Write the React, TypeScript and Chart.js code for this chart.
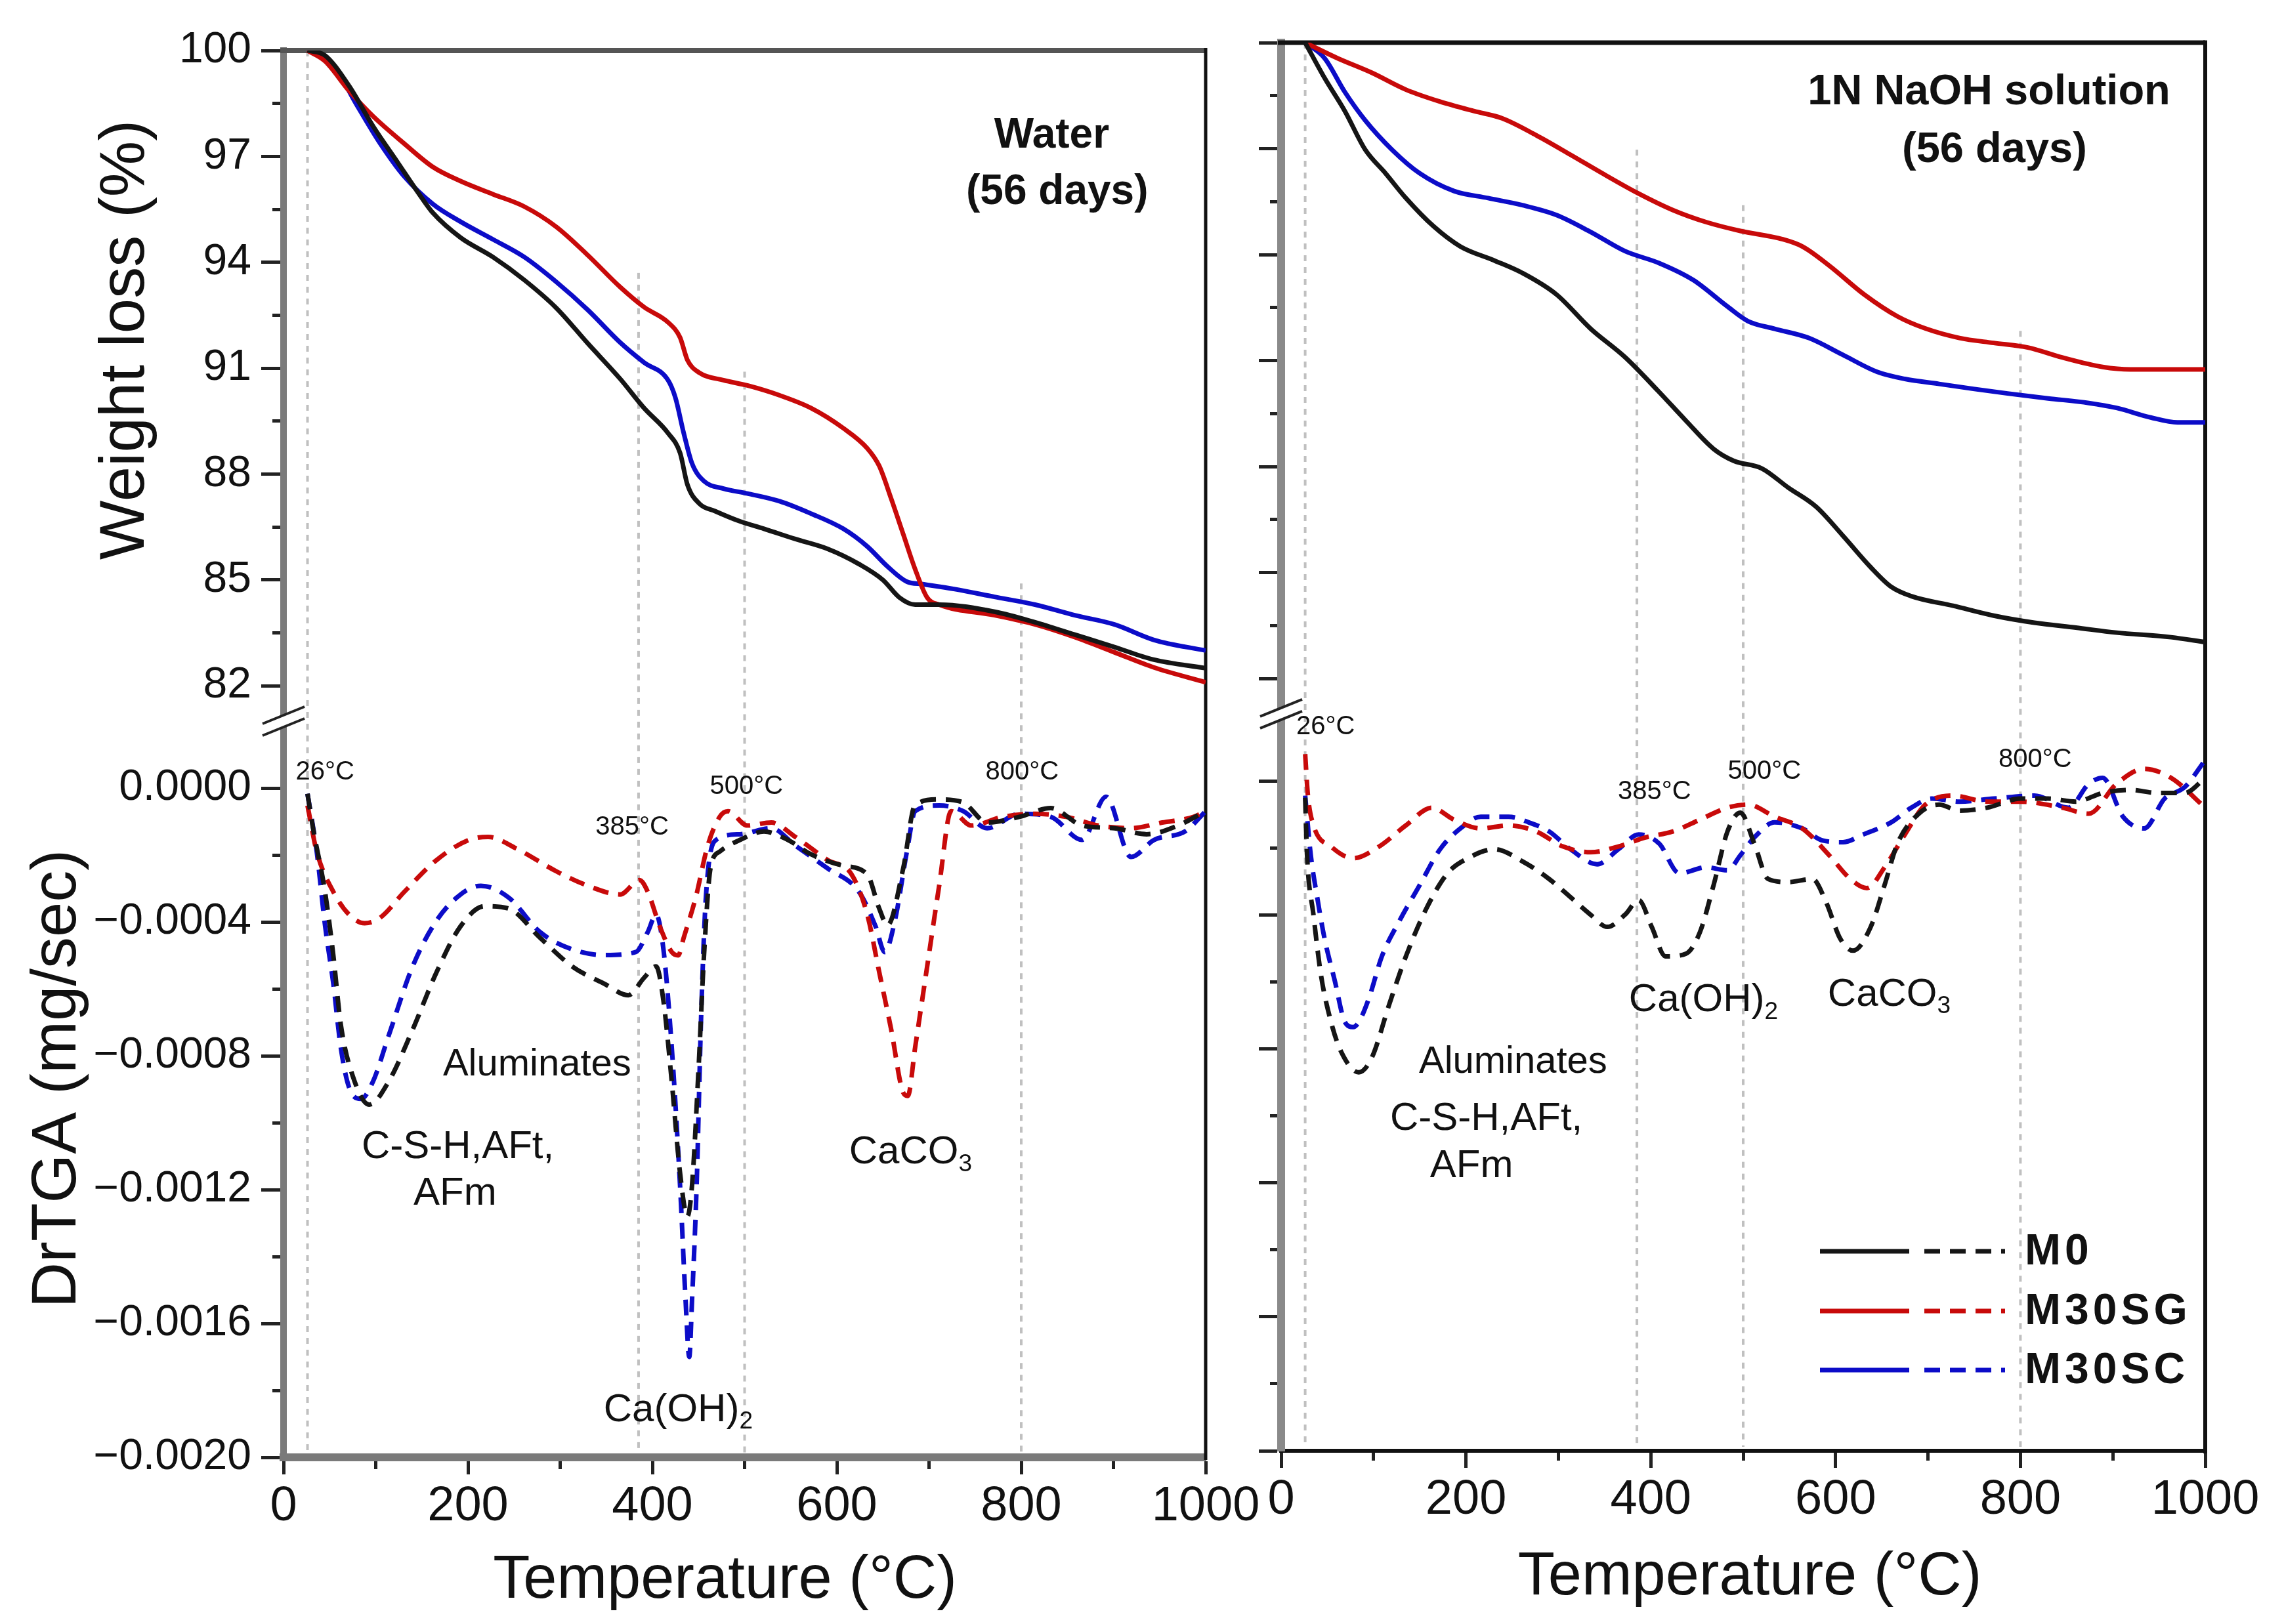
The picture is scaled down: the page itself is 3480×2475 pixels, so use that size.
import React, { useEffect, useRef } from 'react';
import { Chart, registerables } from 'chart.js';

Chart.register(...registerables);

// ---------------- data ----------------
const seriesNames = ['M0', 'M30SG', 'M30SC'];

// Water (56 days) – TGA, weight loss (%)
const waterTgaM0Temp = [26, 45, 71, 97, 123, 149, 162, 192, 227, 261, 296, 330, 365, 391, 417, 430, 438, 451, 468, 495, 521, 555, 590, 624, 650, 668, 685, 711, 771, 815, 858, 901, 944, 1000];
const waterTgaM0 = [100, 99.86, 99.0, 97.86, 96.86, 95.86, 95.4, 94.7, 94.15, 93.5, 92.7, 91.7, 90.7, 89.87, 89.16, 88.6, 87.7, 87.16, 86.95, 86.66, 86.45, 86.16, 85.88, 85.45, 85.0, 84.5, 84.3, 84.3, 84.1, 83.8, 83.45, 83.1, 82.74, 82.5];
const waterTgaSGTemp = [26, 45, 71, 97, 131, 162, 192, 227, 261, 296, 330, 365, 391, 417, 430, 438, 451, 477, 503, 538, 572, 607, 633, 646, 659, 672, 685, 698, 711, 771, 815, 858, 901, 944, 1000];
const waterTgaSG = [100, 99.7, 98.86, 98.14, 97.36, 96.7, 96.3, 95.93, 95.58, 95.0, 94.2, 93.3, 92.73, 92.3, 91.87, 91.23, 90.87, 90.66, 90.51, 90.23, 89.87, 89.3, 88.73, 88.23, 87.3, 86.3, 85.3, 84.5, 84.3, 84.0, 83.74, 83.38, 82.95, 82.52, 82.1];
const waterTgaSCTemp = [28, 54, 80, 105, 131, 162, 192, 227, 261, 296, 330, 365, 391, 417, 425, 434, 443, 456, 477, 503, 538, 572, 607, 633, 655, 676, 693, 728, 771, 815, 858, 901, 944, 1000];
const waterTgaSC = [100, 99.57, 98.43, 97.36, 96.43, 95.65, 95.15, 94.65, 94.15, 93.44, 92.65, 91.73, 91.16, 90.66, 90.16, 89.16, 88.3, 87.8, 87.59, 87.45, 87.23, 86.88, 86.45, 85.95, 85.38, 84.95, 84.88, 84.74, 84.52, 84.3, 84.0, 83.74, 83.3, 83.0];

// Water (56 days) – DrTGA (mg/sec)
const waterDtgM0Temp = [26, 32, 45, 54, 62, 75, 93, 114, 140, 166, 192, 218, 244, 278, 313, 348, 374, 391, 404, 412, 421, 430, 438, 443, 450, 456, 463, 473, 495, 521, 547, 572, 607, 633, 646, 655, 672, 685, 711, 737, 763, 798, 832, 866, 901, 936, 970, 1000];
const waterDtgM0 = [-0.17e-4, -1.2e-4, -3.1e-4, -5.0e-4, -7.05e-4, -8.6e-4, -9.46e-4, -8.77e-4, -7.22e-4, -5.5e-4, -4.13e-4, -3.53e-4, -3.6e-4, -4.47e-4, -5.33e-4, -5.85e-4, -6.19e-4, -5.67e-4, -5.33e-4, -6.36e-4, -8.77e-4, -11.5e-4, -12.8e-4, -11.87e-4, -8.43e-4, -4.99e-4, -2.4e-4, -1.9e-4, -1.55e-4, -1.3e-4, -1.55e-4, -1.98e-4, -2.32e-4, -2.58e-4, -3.6e-4, -4.1e-4, -2.4e-4, -0.5e-4, -0.34e-4, -0.43e-4, -1.03e-4, -0.86e-4, -0.6e-4, -1.12e-4, -1.2e-4, -1.38e-4, -1.12e-4, -0.69e-4];
const waterDtgSGTemp = [26, 36, 54, 71, 88, 105, 131, 166, 201, 222, 252, 296, 330, 365, 386, 395, 408, 421, 428, 434, 447, 460, 473, 482, 503, 529, 555, 590, 616, 633, 646, 659, 672, 677, 685, 698, 711, 724, 746, 780, 815, 849, 884, 919, 953, 987, 1000];
const waterDtgSG = [-0.52e-4, -1.9e-4, -3.1e-4, -3.78e-4, -4.04e-4, -3.87e-4, -3.1e-4, -2.15e-4, -1.55e-4, -1.46e-4, -1.8e-4, -2.49e-4, -2.92e-4, -3.18e-4, -2.75e-4, -3.1e-4, -4.13e-4, -4.9e-4, -5.0e-4, -4.47e-4, -3.27e-4, -1.72e-4, -0.86e-4, -0.69e-4, -1.12e-4, -1.03e-4, -1.46e-4, -2.15e-4, -2.58e-4, -3.78e-4, -5.5e-4, -7.22e-4, -9.1e-4, -9.2e-4, -7.74e-4, -5.33e-4, -2.92e-4, -0.69e-4, -1.12e-4, -0.86e-4, -0.77e-4, -0.86e-4, -1.12e-4, -1.2e-4, -1.03e-4, -0.86e-4, -0.69e-4];
const waterDtgSCTemp = [26, 36, 45, 54, 62, 71, 84, 97, 114, 140, 166, 192, 214, 244, 278, 313, 348, 382, 395, 404, 412, 421, 430, 436, 440, 443, 448, 453, 458, 469, 495, 529, 555, 590, 624, 642, 652, 663, 676, 685, 711, 737, 763, 798, 832, 866, 892, 919, 944, 978, 1000];
const waterDtgSC = [-0.17e-4, -1.9e-4, -4.1e-4, -5.85e-4, -7.74e-4, -8.94e-4, -9.29e-4, -8.77e-4, -7.4e-4, -5.33e-4, -3.96e-4, -3.18e-4, -2.92e-4, -3.27e-4, -4.3e-4, -4.82e-4, -4.99e-4, -4.9e-4, -4.3e-4, -3.78e-4, -4.82e-4, -7.74e-4, -11.87e-4, -15.3e-4, -17.0e-4, -15.3e-4, -11.87e-4, -6.7e-4, -3.27e-4, -1.55e-4, -1.38e-4, -1.2e-4, -1.72e-4, -2.4e-4, -3.1e-4, -4.13e-4, -4.9e-4, -3.96e-4, -1.9e-4, -0.69e-4, -0.52e-4, -0.69e-4, -1.2e-4, -0.77e-4, -0.86e-4, -1.55e-4, -0.26e-4, -2.06e-4, -1.55e-4, -1.29e-4, -0.69e-4];

// 1N NaOH solution (56 days) – TGA
const naohTgaM0Temp = [26, 47, 69, 91, 113, 135, 165, 194, 231, 261, 298, 335, 372, 408, 438, 468, 490, 520, 549, 579, 608, 638, 660, 682, 727, 771, 815, 860, 904, 963, 1000];
const naohTgaM0 = [100, 99.0, 98.06, 96.97, 96.3, 95.6, 94.8, 94.23, 93.83, 93.48, 92.87, 91.9, 91.1, 90.14, 89.3, 88.5, 88.16, 87.95, 87.4, 86.86, 86.04, 85.15, 84.6, 84.33, 84.06, 83.78, 83.58, 83.44, 83.3, 83.17, 83.03];
const naohTgaSGTemp = [26, 61, 98, 135, 172, 209, 239, 276, 313, 349, 386, 424, 460, 497, 542, 564, 593, 631, 667, 697, 734, 771, 808, 845, 889, 919, 963, 1000];
const naohTgaSG = [100, 99.56, 99.15, 98.67, 98.33, 98.06, 97.86, 97.38, 96.83, 96.28, 95.74, 95.26, 94.92, 94.67, 94.44, 94.23, 93.69, 92.87, 92.25, 91.91, 91.64, 91.5, 91.37, 91.09, 90.82, 90.75, 90.75, 90.75];
const naohTgaSCTemp = [26, 47, 69, 91, 120, 150, 187, 224, 261, 298, 335, 372, 409, 446, 483, 505, 534, 571, 608, 645, 675, 712, 749, 786, 830, 874, 904, 941, 970, 1000];
const naohTgaSC = [100, 99.56, 98.6, 97.8, 96.97, 96.3, 95.8, 95.6, 95.4, 95.12, 94.64, 94.1, 93.76, 93.28, 92.53, 92.12, 91.9, 91.64, 91.16, 90.68, 90.48, 90.34, 90.2, 90.07, 89.93, 89.8, 89.66, 89.39, 89.25, 89.25];

// 1N NaOH solution (56 days) – DrTGA
const naohDtgM0Temp = [26, 28, 35, 43, 54, 65, 84, 98, 117, 135, 157, 180, 202, 231, 261, 290, 313, 335, 353, 372, 387, 401, 416, 438, 453, 468, 483, 497, 512, 527, 549, 575, 590, 605, 619, 638, 653, 667, 690, 712, 734, 764, 800, 830, 860, 889, 919, 948, 978, 1000];
const naohDtgM0 = [-0.5e-4, -2.2e-4, -4.0e-4, -5.78e-4, -7.2e-4, -8.09e-4, -8.7e-4, -8.27e-4, -6.67e-4, -5.24e-4, -3.82e-4, -2.76e-4, -2.31e-4, -2.04e-4, -2.4e-4, -2.93e-4, -3.47e-4, -4.0e-4, -4.36e-4, -4.0e-4, -3.56e-4, -4.36e-4, -5.24e-4, -5.16e-4, -4.53e-4, -3.11e-4, -1.51e-4, -0.95e-4, -1.87e-4, -2.93e-4, -3.02e-4, -2.93e-4, -3.64e-4, -4.71e-4, -5.07e-4, -4.36e-4, -3.11e-4, -1.87e-4, -0.98e-4, -0.71e-4, -0.89e-4, -0.8e-4, -0.53e-4, -0.53e-4, -0.62e-4, -0.36e-4, -0.27e-4, -0.36e-4, -0.36e-4, 0.09e-4];
const naohDtgSGTemp = [26, 29, 35, 54, 78, 106, 135, 163, 187, 216, 246, 276, 305, 335, 365, 394, 424, 453, 483, 505, 534, 564, 593, 616, 634, 653, 675, 697, 727, 764, 800, 845, 874, 904, 934, 963, 1000];
const naohDtgSG = [0.8e-4, -0.44e-4, -1.33e-4, -1.96e-4, -2.31e-4, -1.96e-4, -1.33e-4, -0.8e-4, -1.16e-4, -1.42e-4, -1.33e-4, -1.51e-4, -1.96e-4, -2.13e-4, -1.96e-4, -1.69e-4, -1.51e-4, -1.16e-4, -0.8e-4, -0.71e-4, -1.07e-4, -1.42e-4, -2.22e-4, -2.93e-4, -3.2e-4, -2.58e-4, -1.6e-4, -0.71e-4, -0.44e-4, -0.62e-4, -0.62e-4, -0.8e-4, -0.98e-4, -0.09e-4, 0.36e-4, 0.09e-4, -0.8e-4];
const naohDtgSCTemp = [26, 32, 39, 47, 58, 69, 78, 84, 95, 109, 128, 150, 172, 194, 216, 246, 268, 290, 313, 342, 365, 387, 409, 431, 460, 483, 497, 512, 534, 564, 586, 608, 630, 660, 682, 704, 734, 771, 815, 852, 874, 889, 911, 934, 956, 978, 1000];
const naohDtgSC = [-0.44e-4, -2.2e-4, -3.47e-4, -4.71e-4, -5.96e-4, -7.2e-4, -7.35e-4, -7.2e-4, -6.49e-4, -5.24e-4, -4.18e-4, -3.11e-4, -2.04e-4, -1.42e-4, -1.07e-4, -1.07e-4, -1.24e-4, -1.51e-4, -2.04e-4, -2.49e-4, -2.04e-4, -1.6e-4, -1.87e-4, -2.76e-4, -2.58e-4, -2.67e-4, -2.22e-4, -1.69e-4, -1.24e-4, -1.42e-4, -1.78e-4, -1.83e-4, -1.6e-4, -1.24e-4, -0.8e-4, -0.53e-4, -0.62e-4, -0.53e-4, -0.44e-4, -0.8e-4, -0.09e-4, 0.09e-4, -1.07e-4, -1.42e-4, -0.53e-4, -0.18e-4, 0.62e-4];

// ticks
const weightMajorTicks = [82, 85, 88, 91, 94, 97, 100];
const weightMinorTicks = [83.5, 86.5, 89.5, 92.5, 95.5, 98.5];
const weightTickLabels = ['82', '85', '88', '91', '94', '97', '100'];
const dtgMajorTicks = [0, -0.0004, -0.0008, -0.0012, -0.0016, -0.002];
const dtgMinorTicks = [-0.0002, -0.0006, -0.001, -0.0014, -0.0018];
const dtgTickLabels = ['0.0000', '\u22120.0004', '\u22120.0008', '\u22120.0012', '\u22120.0016', '\u22120.0020'];
const tempMajorTicks = [0, 200, 400, 600, 800, 1000];
const tempMinorTicks = [100, 300, 500, 700, 900];
const tempTickLabels = ['0', '200', '400', '600', '800', '1000'];

// reference temperatures (dotted verticals) and the weight level where each starts
const refTemps = [26, 385, 500, 800];
const waterRefStart = [100, 93.7, 90.9, 84.9];
const naohRefStart = [100, 96.97, 95.4, 91.84];

// ---------------- styling ----------------
const W = 3480;
const H = 2475;
const SANS = "'Liberation Sans', Arial, Helvetica, sans-serif";
const COLORS = ['#151515', '#c80a0a', '#0c0cc8'];

type Ann = { text: string; sub?: string; t: number; v: number; axis: 'T' | 'D'; size: number; bold?: boolean };

interface Panel {
  tga: { t: number[]; v: number[] }[];
  dtg: { t: number[]; v: number[] }[];
  refStart: number[];
  area: { left: number; right: number; top: number; bottom: number };
  yAxisWidth: number;
  showYLabels: boolean;
  leftColor: string; leftWidth: number;
  bottomColor: string; bottomWidth: number;
  topColor: string; topWidth: number;
  rightColor: string; rightWidth: number;
  ann: Ann[];
  yTitles: boolean;
  xTitleDx: number; xTitleY: number;
  legend: boolean;
}

const waterPanel: Panel = {
  tga: [
    { t: waterTgaM0Temp, v: waterTgaM0 },
    { t: waterTgaSGTemp, v: waterTgaSG },
    { t: waterTgaSCTemp, v: waterTgaSC },
  ],
  dtg: [
    { t: waterDtgM0Temp, v: waterDtgM0 },
    { t: waterDtgSGTemp, v: waterDtgSG },
    { t: waterDtgSCTemp, v: waterDtgSC },
  ],
  refStart: waterRefStart,
  area: { left: 432, right: 1837, top: 77, bottom: 2221 },
  yAxisWidth: 432,
  showYLabels: true,
  leftColor: '#7a7a7a', leftWidth: 10,
  bottomColor: '#7a7a7a', bottomWidth: 12,
  topColor: '#555555', topWidth: 8,
  rightColor: '#111111', rightWidth: 5,
  ann: [
    { text: 'Water', t: 833, v: 97.58, axis: 'T', size: 64, bold: true },
    { text: '(56 days)', t: 839, v: 95.97, axis: 'T', size: 64, bold: true },
    { text: '26°C', t: 45, v: 0.000047, axis: 'D', size: 40 },
    { text: '385°C', t: 378, v: -0.000118, axis: 'D', size: 40 },
    { text: '500°C', t: 502, v: 0.000004, axis: 'D', size: 40 },
    { text: '800°C', t: 801, v: 0.000047, axis: 'D', size: 40 },
    { text: 'Aluminates', t: 275, v: -0.000827, axis: 'D', size: 58 },
    { text: 'C-S-H,AFt,', t: 189, v: -0.001073, axis: 'D', size: 60 },
    { text: 'AFm', t: 186, v: -0.001212, axis: 'D', size: 60 },
    { text: 'Ca(OH)', sub: '2', t: 428, v: -0.001859, axis: 'D', size: 60 },
    { text: 'CaCO', sub: '3', t: 680, v: -0.00109, axis: 'D', size: 60 },
  ],
  yTitles: true,
  xTitleDx: -30, xTitleY: 2410,
  legend: false,
};

const naohPanel: Panel = {
  tga: [
    { t: naohTgaM0Temp, v: naohTgaM0 },
    { t: naohTgaSGTemp, v: naohTgaSG },
    { t: naohTgaSCTemp, v: naohTgaSC },
  ],
  dtg: [
    { t: naohDtgM0Temp, v: naohDtgM0 },
    { t: naohDtgSGTemp, v: naohDtgSG },
    { t: naohDtgSCTemp, v: naohDtgSC },
  ],
  refStart: naohRefStart,
  area: { left: 1952, right: 3360, top: 65, bottom: 2211 },
  yAxisWidth: 60,
  showYLabels: false,
  leftColor: '#8a8a8a', leftWidth: 12,
  bottomColor: '#111111', bottomWidth: 6,
  topColor: '#111111', topWidth: 7,
  rightColor: '#111111', rightWidth: 6,
  ann: [
    { text: '1N NaOH solution', t: 766, v: 98.58, axis: 'T', size: 65, bold: true },
    { text: '(56 days)', t: 772, v: 96.96, axis: 'T', size: 65, bold: true },
    { text: '26°C', t: 48, v: 0.00016, axis: 'D', size: 40 },
    { text: '385°C', t: 404, v: -0.000033, axis: 'D', size: 40 },
    { text: '500°C', t: 523, v: 0.000027, axis: 'D', size: 40 },
    { text: '800°C', t: 816, v: 0.000063, axis: 'D', size: 40 },
    { text: 'Ca(OH)', sub: '2', t: 457, v: -0.000656, axis: 'D', size: 60 },
    { text: 'CaCO', sub: '3', t: 658, v: -0.000639, axis: 'D', size: 60 },
    { text: 'Aluminates', t: 251, v: -0.00084, axis: 'D', size: 58 },
    { text: 'C-S-H,AFt,', t: 222, v: -0.00101, axis: 'D', size: 60 },
    { text: 'AFm', t: 206, v: -0.00115, axis: 'D', size: 60 },
  ],
  yTitles: false,
  xTitleDx: 10, xTitleY: 2405,
  legend: true,
};

// ---------------- helpers ----------------
function idxOf(list: number[], v: any): number {
  if (typeof v !== 'number') return -1;
  return list.findIndex((m) => Math.abs(m - v) < 1e-9);
}

function pts(t: number[], v: number[]) {
  return t.map((x, i) => ({ x, y: v[i] }));
}

function drawLabel(ctx: CanvasRenderingContext2D, a: Ann, x: number, y: number) {
  const main = `${a.bold ? 'bold ' : ''}${a.size}px ${SANS}`;
  ctx.font = main;
  const w1 = ctx.measureText(a.text).width;
  let w2 = 0;
  const subSize = Math.round(a.size * 0.62);
  const subFont = `${a.bold ? 'bold ' : ''}${subSize}px ${SANS}`;
  if (a.sub) {
    ctx.font = subFont;
    w2 = ctx.measureText(a.sub).width;
  }
  const x0 = x - (w1 + w2) / 2;
  ctx.fillStyle = '#111';
  ctx.textBaseline = 'middle';
  ctx.textAlign = 'left';
  ctx.font = main;
  ctx.fillText(a.text, x0, y);
  if (a.sub) {
    ctx.font = subFont;
    ctx.fillText(a.sub, x0 + w1, y + a.size * 0.3);
  }
}

function makePlugin(p: Panel) {
  return {
    id: 'decor',
    beforeDatasetsDraw(chart: any) {
      const { ctx, chartArea } = chart;
      const xs = chart.scales.x;
      const yT = chart.scales.yT;
      ctx.save();
      // dotted reference verticals
      ctx.setLineDash([9, 9]);
      ctx.strokeStyle = 'rgba(150,150,150,0.6)';
      ctx.lineWidth = 4;
      refTemps.forEach((t, i) => {
        const px = xs.getPixelForValue(t);
        const top = yT.getPixelForValue(p.refStart[i]);
        ctx.beginPath();
        ctx.moveTo(px, top);
        ctx.lineTo(px, chartArea.bottom - 6);
        ctx.stroke();
      });
      ctx.setLineDash([]);
      // frame: top and right
      ctx.strokeStyle = p.topColor;
      ctx.lineWidth = p.topWidth;
      ctx.beginPath();
      ctx.moveTo(chartArea.left - 5, chartArea.top);
      ctx.lineTo(chartArea.right, chartArea.top);
      ctx.stroke();
      ctx.strokeStyle = p.rightColor;
      ctx.lineWidth = p.rightWidth;
      ctx.beginPath();
      ctx.moveTo(chartArea.right, chartArea.top - p.topWidth / 2);
      ctx.lineTo(chartArea.right, chartArea.bottom + 4);
      ctx.stroke();
      ctx.restore();
    },
    afterDatasetsDraw(chart: any) {
      const { ctx, chartArea } = chart;
      const xs = chart.scales.x;
      const yT = chart.scales.yT;
      const yD = chart.scales.yD;
      ctx.save();
      // axis break marks
      const bx = chartArea.left;
      const by = yT.bottom;
      ctx.fillStyle = '#ffffff';
      ctx.beginPath();
      ctx.moveTo(bx - 32, by - 9 + 13);
      ctx.lineTo(bx + 32, by - 9 - 13);
      ctx.lineTo(bx + 32, by + 9 - 13);
      ctx.lineTo(bx - 32, by + 9 + 13);
      ctx.closePath();
      ctx.fill();
      ctx.strokeStyle = '#222';
      ctx.lineWidth = 4;
      [-9, 9].forEach((k) => {
        ctx.beginPath();
        ctx.moveTo(bx - 32, by + k + 13);
        ctx.lineTo(bx + 32, by + k - 13);
        ctx.stroke();
      });
      // annotations
      p.ann.forEach((a) => {
        const x = xs.getPixelForValue(a.t);
        const y = (a.axis === 'T' ? yT : yD).getPixelForValue(a.v);
        drawLabel(ctx, a, x, y);
      });
      // axis titles
      ctx.fillStyle = '#111';
      ctx.textAlign = 'center';
      ctx.textBaseline = 'middle';
      ctx.font = `92px ${SANS}`;
      ctx.fillText('Temperature (°C)', (chartArea.left + chartArea.right) / 2 + p.xTitleDx, p.xTitleY);
      if (p.yTitles) {
        ctx.font = `96px ${SANS}`;
        ctx.save();
        ctx.translate(chartArea.left - 239, yT.top + 441);
        ctx.rotate(-Math.PI / 2);
        ctx.fillText('Weight loss (%)', 0, 0);
        ctx.restore();
        ctx.save();
        ctx.translate(chartArea.left - 343, yD.top + 545);
        ctx.rotate(-Math.PI / 2);
        ctx.fillText('DrTGA (mg/sec)', 0, 0);
        ctx.restore();
      }
      // legend
      if (p.legend) {
        const rows = [chartArea.bottom - 304, chartArea.bottom - 213, chartArea.bottom - 123];
        const r = chartArea.right;
        seriesNames.forEach((name, i) => {
          const y = rows[i];
          ctx.strokeStyle = COLORS[i];
          ctx.lineWidth = 7;
          ctx.setLineDash([]);
          ctx.beginPath();
          ctx.moveTo(r - 587, y);
          ctx.lineTo(r - 451, y);
          ctx.stroke();
          ctx.setLineDash([24, 15]);
          ctx.beginPath();
          ctx.moveTo(r - 428, y);
          ctx.lineTo(r - 305, y);
          ctx.stroke();
          ctx.setLineDash([]);
          ctx.fillStyle = '#111';
          ctx.textAlign = 'left';
          ctx.textBaseline = 'middle';
          ctx.font = `bold 66px ${SANS}`;
          (ctx as any).letterSpacing = '6px';
          ctx.fillText(name, r - 275, y + 2);
          (ctx as any).letterSpacing = '0px';
        });
      }
      ctx.restore();
    },
  };
}

function yAxis(p: Panel, kind: 'T' | 'D') {
  const major = kind === 'T' ? weightMajorTicks : dtgMajorTicks;
  const minor = kind === 'T' ? weightMinorTicks : dtgMinorTicks;
  const labels = kind === 'T' ? weightTickLabels : dtgTickLabels;
  return {
    type: 'linear',
    position: 'left',
    stack: 'panel',
    stackWeight: kind === 'T' ? 1022 : 1122,
    min: kind === 'T' ? 81 : -0.002,
    max: kind === 'T' ? 100 : 0.0002,
    afterBuildTicks: (s: any) => {
      s.ticks = [...major, ...minor].sort((a, b) => a - b).map((v) => ({ value: v }));
    },
    afterFit: (s: any) => {
      s.width = p.yAxisWidth;
    },
    ticks: {
      display: p.showYLabels,
      autoSkip: false,
      padding: 15,
      color: '#111',
      font: { family: SANS, size: 66 },
      callback: (v: any) => {
        const i = idxOf(major, v);
        return i >= 0 ? labels[i] : '';
      },
    },
    grid: {
      display: true,
      drawOnChartArea: false,
      drawTicks: true,
      tickLength: 34,
      tickWidth: 5,
      tickColor: '#222',
      tickBorderDash: (c: any) => (idxOf(major, c.tick?.value) >= 0 ? [] : [17, 200]),
      tickBorderDashOffset: (c: any) => (idxOf(major, c.tick?.value) >= 0 ? 0 : 200),
    },
    border: { display: true, color: p.leftColor, width: p.leftWidth },
  };
}

function makeChart(canvas: HTMLCanvasElement, p: Panel) {
  const datasets: any[] = [];
  p.tga.forEach((s, i) => {
    datasets.push({
      label: seriesNames[i] + ' TGA',
      data: pts(s.t, s.v),
      yAxisID: 'yT',
      borderColor: COLORS[i],
      borderWidth: 7,
      pointRadius: 0,
      fill: false,
      cubicInterpolationMode: 'monotone',
    });
  });
  p.dtg.forEach((s, i) => {
    datasets.push({
      label: seriesNames[i] + ' DrTGA',
      data: pts(s.t, s.v),
      yAxisID: 'yD',
      borderColor: COLORS[i],
      borderWidth: 7,
      borderDash: [24, 15],
      pointRadius: 0,
      fill: false,
      cubicInterpolationMode: 'monotone',
    });
  });
  return new Chart(canvas, {
    type: 'line',
    data: { datasets },
    options: {
      animation: false,
      responsive: false,
      devicePixelRatio: 1,
      events: [],
      layout: {
        padding: { left: p.area.left - p.yAxisWidth, right: W - p.area.right, top: p.area.top, bottom: 0 },
      },
      plugins: { legend: { display: false }, tooltip: { enabled: false } },
      scales: {
        x: {
          type: 'linear',
          position: 'bottom',
          min: 0,
          max: 1000,
          afterBuildTicks: (s: any) => {
            s.ticks = [...tempMajorTicks, ...tempMinorTicks].sort((a, b) => a - b).map((v) => ({ value: v }));
          },
          afterFit: (s: any) => {
            s.height = H - p.area.bottom;
          },
          ticks: {
            autoSkip: false,
            maxRotation: 0,
            minRotation: 0,
            padding: 5,
            color: '#111',
            font: { family: SANS, size: 74 },
            callback: (v: any) => {
              const i = idxOf(tempMajorTicks, v);
              return i >= 0 ? tempTickLabels[i] : '';
            },
          },
          grid: {
            display: true,
            drawOnChartArea: false,
            drawTicks: true,
            tickLength: 26,
            tickWidth: 5,
            tickColor: '#222',
            tickBorderDash: (c: any) => (idxOf(tempMajorTicks, c.tick?.value) >= 0 ? [] : [12, 200]),
            tickBorderDashOffset: 0,
          },
          border: { display: true, color: p.bottomColor, width: p.bottomWidth },
        },
        yD: yAxis(p, 'D'),
        yT: yAxis(p, 'T'),
      } as any,
    },
    plugins: [makePlugin(p)],
  } as any);
}

export default function App() {
  const leftRef = useRef<HTMLCanvasElement>(null);
  const rightRef = useRef<HTMLCanvasElement>(null);
  useEffect(() => {
    document.body.style.margin = '0';
    const c1 = makeChart(leftRef.current as HTMLCanvasElement, waterPanel);
    const c2 = makeChart(rightRef.current as HTMLCanvasElement, naohPanel);
    return () => {
      c1.destroy();
      c2.destroy();
    };
  }, []);
  const cs: React.CSSProperties = { position: 'absolute', left: 0, top: 0, width: W, height: H };
  return (
    <div style={{ position: 'absolute', left: 0, top: 0, width: W, height: H, background: '#ffffff', overflow: 'hidden' }}>
      <canvas ref={leftRef} width={W} height={H} style={cs} />
      <canvas ref={rightRef} width={W} height={H} style={cs} />
    </div>
  );
}
